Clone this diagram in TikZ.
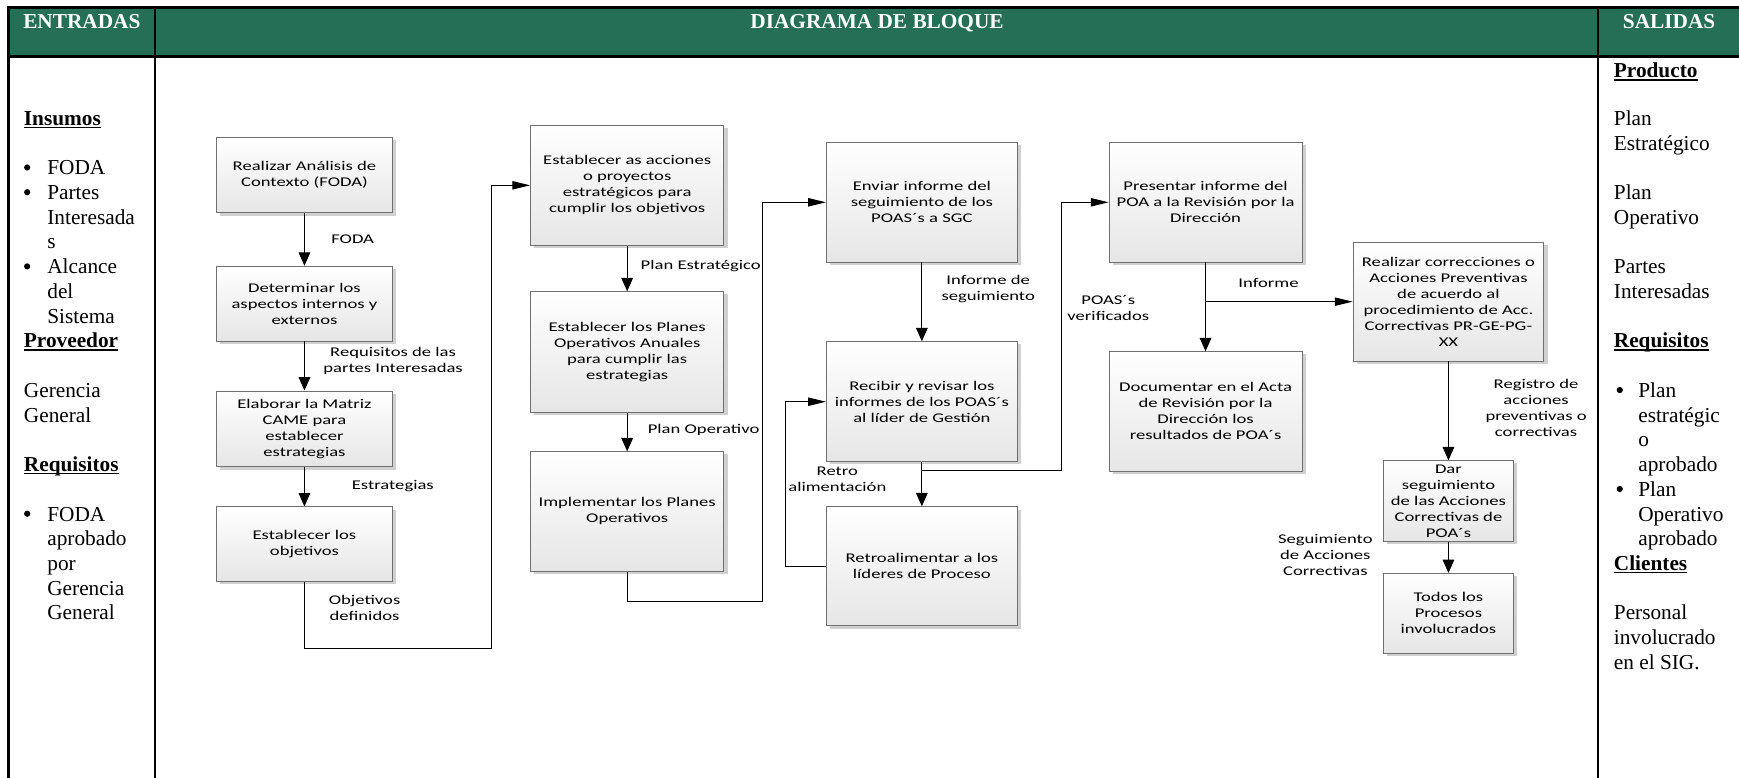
\documentclass[tikz,border=0pt]{standalone}
\usepackage{fontspec}
\setmainfont{Liberation Serif}
\newfontfamily\boxfont{Carlito}[FakeStretch=1.4]
\usetikzlibrary{arrows.meta,shadows}

\definecolor{headgreen}{RGB}{37,111,86}
\definecolor{boxline}{RGB}{112,112,112}
\definecolor{boxshade}{RGB}{230,230,230}
\definecolor{shadowgray}{RGB}{208,208,208}

% bold heading with a drawn underline
\newcommand{\hdul}[1]{\setbox0\hbox{\bfseries #1}\rlap{\rule[-2.6pt]{\wd0}{1.3pt}}\box0}

\begin{document}
\begin{tikzpicture}[x=1pt,y=-1pt,
  tline/.style={line width=2.2pt},
  proc/.style 2 args={draw=boxline, line width=0.8pt, top color=white, bottom color=boxshade,
    drop shadow={shadow xshift=3.5pt, shadow yshift=-2.5pt, fill=shadowgray, opacity=1},
    align=center, inner sep=0pt, minimum width=#1, minimum height=#2,
    font=\boxfont\fontsize{12}{14.4}\selectfont},
  lab/.style={align=center, inner sep=0pt, font=\boxfont\fontsize{12}{14.4}\selectfont},
  conn/.style={line width=0.9pt},
  varr/.style={conn, -{Triangle[length=12pt,width=10.5pt]}},
  harr/.style={conn, -{Triangle[length=16pt,width=7.5pt]}},
  headtxt/.style={anchor=base, inner sep=0pt, text=white, font=\bfseries\fontsize{19.2}{22.3}\selectfont},
  coltxt/.style={anchor=base west, inner sep=0pt, font=\fontsize{19.2}{22.3}\selectfont},
  bul/.style={circle, fill=black, inner sep=0pt, minimum size=5.6pt, yshift=6.6pt}
]
\useasboundingbox (0,0) rectangle (1568,701);
\clip (0,0) rectangle (1568,701);

% ---------- table frame ----------
\fill[headgreen] (7.6,6.6) rectangle (1575,51);
\draw[tline] (7.6,705) -- (7.6,6.6) -- (1575,6.6);
\draw[tline] (7.6,51) -- (1575,51);
\draw[tline] (140,6.6) -- (140,705);
\draw[tline] (1441,6.6) -- (1441,705);

\node[headtxt] (hin)  at (73.8,25.5)  {ENTRADAS};
\node[headtxt] (hdb)  at (790.8,25.5) {DIAGRAMA DE BLOQUE};
\node[headtxt] (hout) at (1505,25.5)  {SALIDAS};

% ---------- inputs column ----------
\node[coltxt] (i0)  at (21.4,113.0) {\hdul{Insumos}};
\node[bul]    (ib1) at (24.5,157.6) {};
\node[coltxt] (i1)  at (42.5,157.6) {FODA};
\node[bul]    (ib2) at (24.5,179.9) {};
\node[coltxt] (i2)  at (42.5,179.9) {Partes};
\node[coltxt] (i3)  at (42.5,202.2) {Interesada};
\node[coltxt] (i4)  at (42.5,224.5) {s};
\node[bul]    (ib3) at (24.5,246.8) {};
\node[coltxt] (i5)  at (42.5,246.8) {Alcance};
\node[coltxt] (i6)  at (42.5,269.1) {del};
\node[coltxt] (i7)  at (42.5,291.4) {Sistema};
\node[coltxt] (i8)  at (21.4,313.7) {\hdul{Proveedor}};
\node[coltxt] (i9)  at (21.4,358.3) {Gerencia};
\node[coltxt] (i10) at (21.4,380.6) {General};
\node[coltxt] (i11) at (21.4,425.2) {\hdul{Requisitos}};
\node[bul]    (ib4) at (24.5,469.8) {};
\node[coltxt] (i12) at (42.5,469.8) {FODA};
\node[coltxt] (i13) at (42.5,492.1) {aprobado};
\node[coltxt] (i14) at (42.5,514.4) {por};
\node[coltxt] (i15) at (42.5,536.7) {Gerencia};
\node[coltxt] (i16) at (42.5,559.0) {General};

% ---------- outputs column ----------
\node[coltxt] (o0)  at (1455,70.0)  {\hdul{Producto}};
\node[coltxt] (o1)  at (1455,113.0) {Plan};
\node[coltxt] (o2)  at (1455,135.3) {Estratégico};
\node[coltxt] (o3)  at (1455,179.9) {Plan};
\node[coltxt] (o4)  at (1455,202.2) {Operativo};
\node[coltxt] (o5)  at (1455,246.8) {Partes};
\node[coltxt] (o6)  at (1455,269.1) {Interesadas};
\node[coltxt] (o7)  at (1455,313.7) {\hdul{Requisitos}};
\node[bul]    (ob1) at (1460.5,358.3) {};
\node[coltxt] (o8)  at (1477,358.3) {Plan};
\node[coltxt] (o9)  at (1477,380.6) {estratégic};
\node[coltxt] (o10) at (1477,402.9) {o};
\node[coltxt] (o11) at (1477,425.2) {aprobado};
\node[bul]    (ob2) at (1460.5,447.5) {};
\node[coltxt] (o12) at (1477,447.5) {Plan};
\node[coltxt] (o13) at (1477,469.8) {Operativo};
\node[coltxt] (o14) at (1477,492.1) {aprobado};
\node[coltxt] (o15) at (1455,514.4) {\hdul{Clientes}};
\node[coltxt] (o16) at (1455,559.0) {Personal};
\node[coltxt] (o17) at (1455,581.3) {involucrado};
\node[coltxt] (o18) at (1455,603.6) {en el SIG.};

% ---------- process boxes ----------
\node[proc={159}{68}]     (b1)  at (274.5,158)    {Realizar Análisis de\\Contexto (FODA)};
\node[proc={159}{67.5}]   (b2)  at (274.5,273.75) {Determinar los\\aspectos internos y\\externos};
\node[proc={159}{68.5}]   (b3)  at (274.5,386.75) {Elaborar la Matriz\\CAME para\\establecer\\estrategias};
\node[proc={159}{67}]     (b4)  at (274.5,490.5)  {Establecer los\\objetivos};

\node[proc={174.3}{108.8}] (b5) at (565.5,167.1)  {Establecer as acciones\\o proyectos\\estratégicos para\\cumplir los objetivos};
\node[proc={174.3}{108.8}] (b6) at (565.5,317.4)  {Establecer los Planes\\Operativos Anuales\\para cumplir las\\estrategias};
\node[proc={174.3}{107.6}] (b7) at (565.5,461.1)  {Implementar los Planes\\Operativos};

\node[proc={172.2}{107.6}] (b8)  at (831.2,182.4) {Enviar informe del\\seguimiento de los\\POAS´s a SGC};
\node[proc={172.2}{108.2}] (b9)  at (831.2,362.2) {Recibir y revisar los\\informes de los POAS´s\\al líder de Gestión};
\node[proc={172.2}{107.3}] (b10) at (831.2,510.55) {Retroalimentar a los\\líderes de Proceso};

\node[proc={174}{107.6}] (b11) at (1087,182.4) {Presentar informe del\\POA a la Revisión por la\\Dirección};
\node[proc={174}{107.6}] (b12) at (1087,370.9) {Documentar en el Acta\\de Revisión por la\\Dirección los\\resultados de POA´s};

\node[proc={172}{107}] (b13) at (1306,272)   {Realizar correcciones o\\Acciones Preventivas\\de acuerdo al\\procedimiento de Acc.\\Correctivas PR-GE-PG-\\XX};
\node[proc={117}{73}]  (b14) at (1306,451.9) {Dar\\seguimiento\\de las Acciones\\Correctivas de\\POA´s};
\node[proc={117}{72}]  (b15) at (1306,553)   {Todos los\\Procesos\\involucrados};

% ---------- routing points ----------
\coordinate (j1) at (443.5,585);
\coordinate (j2) at (687.5,542.5);
\coordinate (j4) at (957.4,424.4);
\coordinate (j3) at (b9.south |- j4);
\coordinate (j5) at (707.8,362.2);
\coordinate (j6) at (b11.south |- b13.west);

% ---------- connectors ----------
\draw[varr] (b1.south) -- (b2.north);
\draw[varr] (b2.south) -- (b3.north);
\draw[varr] (b3.south) -- (b4.north);
\draw[harr] (b4.south) |- (j1) |- (b5.west);

\draw[varr] (b5.south) -- (b6.north);
\draw[varr] (b6.south) -- (b7.north);
\draw[harr] (b7.south) |- (j2) |- (b8.west);

\draw[varr] (b8.south) -- (b9.north);
\draw[varr] (b9.south) -- (b10.north);
\draw[harr] (j3) -- (j4) |- (b11.west);
\draw[harr] (b10.west) -| (j5) -- (b9.west);

\draw[varr] (b11.south) -- (b12.north);
\draw[harr] (j6) -- (b13.west);

\draw[varr] (b13.south) -- (b14.north);
\draw[varr] (b14.south) -- (b15.north);

% ---------- connector labels ----------
\node[lab] (t1)  at (318,215.5)    {FODA};
\node[lab] (t2)  at (354.4,325.3)  {Requisitos de las\\partes Interesadas};
\node[lab] (t3)  at (354.2,437.9)  {Estrategias};
\node[lab] (t4)  at (328.7,547.8)  {Objetivos\\definidos};
\node[lab] (t5)  at (631.8,239.9)  {Plan Estratégico};
\node[lab] (t6)  at (634.4,387.7)  {Plan Operativo};
\node[lab] (t7)  at (891,260.5)    {Informe de\\seguimiento};
\node[lab] (t8)  at (755,432.3)    {Retro\\alimentación};
\node[lab] (t9)  at (999.3,277.5)  {POAS´s\\verificados};
\node[lab] (t10) at (1143.8,254.9) {Informe};
\node[lab] (t11) at (1385,367.7)   {Registro de\\acciones\\preventivas o\\correctivas};
\node[lab] (t12) at (1195,500)     {Seguimiento\\de Acciones\\Correctivas};
\end{tikzpicture}
\end{document}
